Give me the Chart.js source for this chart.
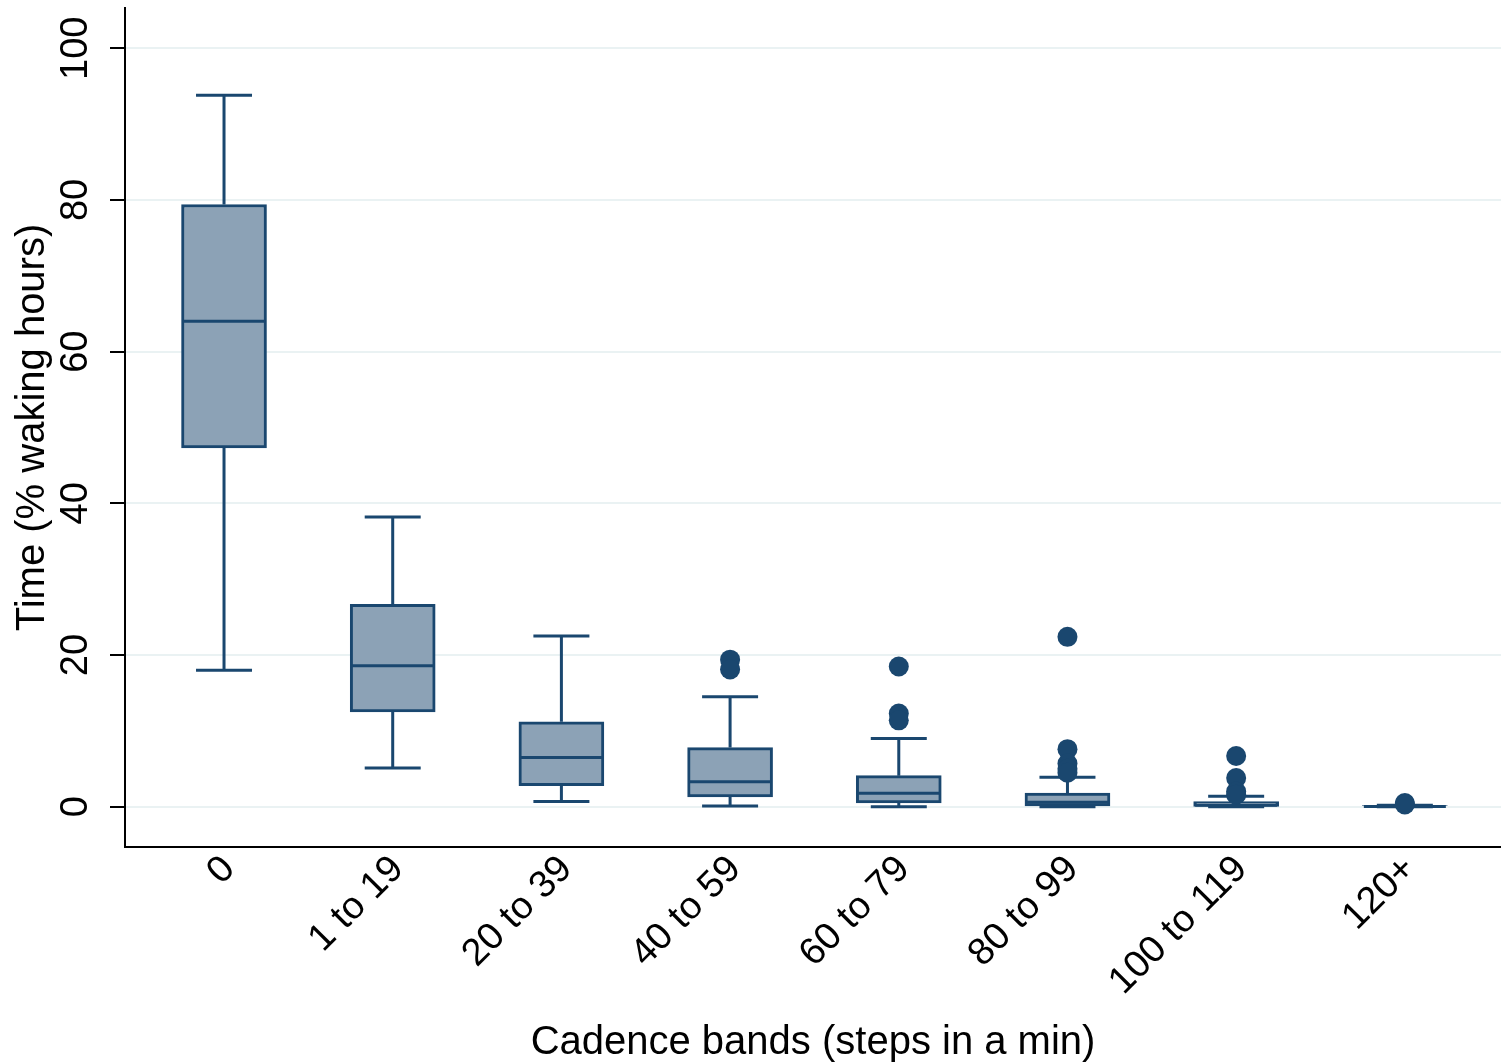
<!DOCTYPE html>
<html>
<head>
<meta charset="utf-8">
<script src="https://cdn.jsdelivr.net/npm/chart.js@4/dist/chart.umd.min.js"></script>
<style>
  html, body { margin: 0; padding: 0; background: #ffffff; }
  #wrap { width: 1501px; height: 1064px; }
</style>
</head>
<body>
<div id="wrap"><canvas id="c" width="1501" height="1064"></canvas></div>
<script>
// ---- Data ----
const categories = ['0', '1 to 19', '20 to 39', '40 to 59', '60 to 79', '80 to 99', '100 to 119', '120+'];
const whiskerLow  = [18.0, 5.1, 0.7, 0.1, 0.0, 0.0, 0.0, 0.0];
const quartile1   = [47.3, 12.5, 2.8, 1.3, 0.5, 0.1, 0.05, 0.0];
const medians     = [64.0, 18.6, 6.5, 3.3, 1.8, 0.6, 0.2, 0.05];
const quartile3   = [79.4, 26.7, 11.2, 7.8, 4.1, 1.8, 0.7, 0.15];
const whiskerHigh = [93.8, 38.2, 22.5, 14.5, 9.0, 3.9, 1.4, 0.2];
const outliers = [
  [],
  [],
  [],
  [19.4, 18.1],
  [18.5, 12.3, 11.4],
  [22.4, 7.6, 5.7, 5.0, 4.5],
  [6.7, 3.8, 2.0, 1.6],
  [0.5, 0.3]
];
const yTicks = [0, 20, 40, 60, 80, 100];

const NAVY = '#1A476F';
const FILL = '#8CA2B6';
const FONT = "'Liberation Sans', Arial, Helvetica, sans-serif";

const boxData = categories.map((c, i) => ({ x: i, y: [quartile1[i], quartile3[i]] }));
const outlierData = [];
outliers.forEach((arr, i) => arr.forEach(v => outlierData.push({ x: i, y: v })));

function zeroPad(scale) {
  scale.paddingTop = 0; scale.paddingBottom = 0;
  scale.paddingLeft = 0; scale.paddingRight = 0;
}

const boxPlugin = {
  id: 'boxParts',
  beforeDatasetsDraw(chart) {
    const { ctx, scales: { x, y } } = chart;
    ctx.save();
    ctx.strokeStyle = NAVY;
    ctx.lineWidth = 3;
    ctx.lineCap = 'butt';
    categories.forEach((c, i) => {
      const px = x.getPixelForValue(i);
      const capHalf = 28;
      const yLo = y.getPixelForValue(whiskerLow[i]);
      const yHi = y.getPixelForValue(whiskerHigh[i]);
      const yQ1 = y.getPixelForValue(quartile1[i]);
      const yQ3 = y.getPixelForValue(quartile3[i]);
      ctx.beginPath();
      ctx.moveTo(px, yQ3); ctx.lineTo(px, yHi);
      ctx.moveTo(px - capHalf, yHi); ctx.lineTo(px + capHalf, yHi);
      ctx.moveTo(px, yQ1); ctx.lineTo(px, yLo);
      ctx.moveTo(px - capHalf, yLo); ctx.lineTo(px + capHalf, yLo);
      ctx.stroke();
    });
    ctx.restore();
  },
  afterDatasetDraw(chart, args) {
    if (args.index !== 0) return;
    const { ctx, scales: { x, y } } = chart;
    ctx.save();
    ctx.strokeStyle = NAVY;
    ctx.lineWidth = 3;
    categories.forEach((c, i) => {
      const px = x.getPixelForValue(i);
      const ym = y.getPixelForValue(medians[i]);
      ctx.beginPath();
      ctx.moveTo(px - 41, ym); ctx.lineTo(px + 41, ym);
      ctx.stroke();
    });
    ctx.restore();
  }
};

new Chart(document.getElementById('c'), {
  type: 'bar',
  data: {
    datasets: [
      {
        type: 'bar',
        data: boxData,
        backgroundColor: FILL,
        borderColor: NAVY,
        borderWidth: 3,
        borderSkipped: false,
        barThickness: 85,
        order: 2
      },
      {
        type: 'scatter',
        data: outlierData,
        backgroundColor: NAVY,
        borderColor: NAVY,
        borderWidth: 0,
        pointRadius: 10,
        order: 1
      }
    ]
  },
  options: {
    responsive: false,
    animation: false,
    devicePixelRatio: 1,
    layout: { autoPadding: false, padding: { top: 8, right: 0, bottom: 0, left: 0 } },
    plugins: { legend: { display: false }, tooltip: { enabled: false } },
    scales: {
      x: {
        type: 'linear',
        min: -0.587,
        max: 7.57,
        offset: false,
        afterFit(scale) { scale.height = 217; zeroPad(scale); },
        afterBuildTicks(scale) { scale.ticks = categories.map((c, i) => ({ value: i })); },
        grid: { display: false, drawTicks: false },
        border: { display: true, color: '#000000', width: 2 },
        ticks: {
          autoSkip: false,
          minRotation: 45,
          maxRotation: 45,
          padding: 0,
          labelOffset: 5,
          color: '#000000',
          font: { family: FONT, size: 38 },
          callback: (v) => categories[v]
        },
        title: {
          display: true,
          text: 'Cadence bands (steps in a min)',
          color: '#000000',
          font: { family: FONT, size: 40, lineHeight: 1.0 },
          padding: { top: 0, bottom: 1 }
        }
      },
      y: {
        type: 'linear',
        min: -5.3,
        max: 105.3,
        afterFit(scale) { scale.width = 125; zeroPad(scale); },
        afterBuildTicks(scale) { scale.ticks = yTicks.map(v => ({ value: v })); },
        grid: { color: '#EAF2F3', lineWidth: 2, tickColor: '#000000', tickLength: 15, tickWidth: 2 },
        border: { display: true, color: '#000000', width: 2 },
        ticks: {
          minRotation: 90,
          maxRotation: 90,
          crossAlign: 'center',
          padding: 2,
          color: '#000000',
          font: { family: FONT, size: 38 }
        },
        title: {
          display: true,
          text: 'Time (% waking hours)',
          color: '#000000',
          font: { family: FONT, size: 40, lineHeight: 1.2 },
          padding: { top: 9, bottom: 0 }
        }
      }
    }
  },
  plugins: [boxPlugin]
});
</script>
</body>
</html>
